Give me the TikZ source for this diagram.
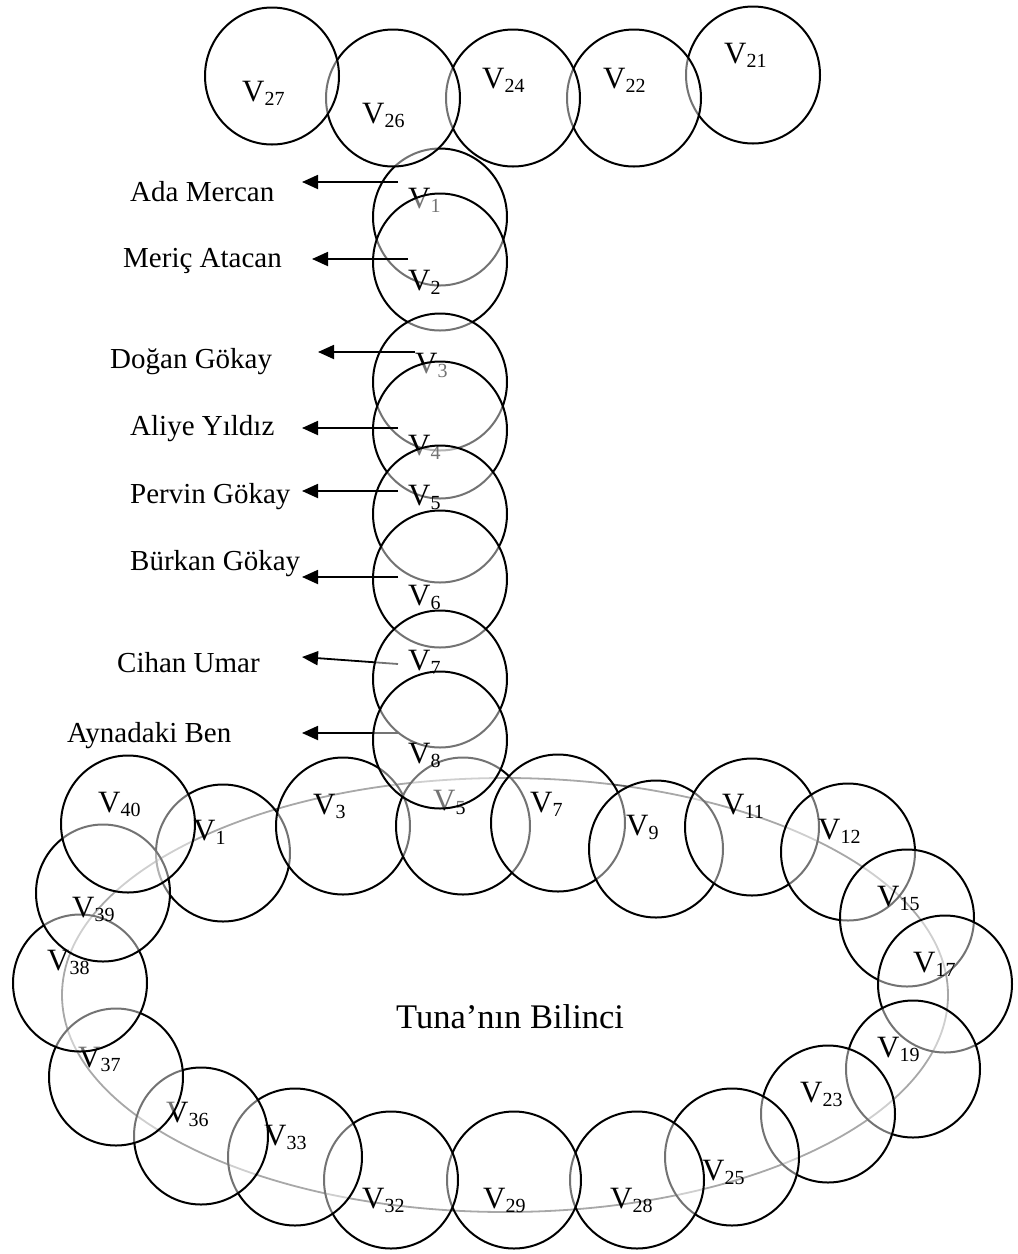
\documentclass[tikz,border=0pt]{standalone}
\usepackage{fontspec}
\setmainfont{Liberation Serif}
\usetikzlibrary{shapes.geometric,arrows.meta}

\newcommand\vlab[1]{{\fontsize{31}{31}\selectfont V}\raisebox{-4pt}{\fontsize{20}{20}\selectfont #1}}

\tikzset{
  vc/.style={draw=black, line width=2pt, ellipse, minimum width=134pt,
             minimum height=137pt, inner sep=0pt, fill=white, fill opacity=0.45,
             text opacity=1},
  vl/.style={anchor=base west, inner sep=0pt},
  nm/.style={anchor=base west, inner sep=0pt, font=\fontsize{29}{32}\selectfont},
  ptr/.style={line width=1.8pt, -{Triangle[length=16pt,width=14pt]}},
}

\begin{document}
\begin{tikzpicture}[x=1pt, y=-1pt]
\useasboundingbox (0,0) rectangle (1018,1254);

% the large ring of consciousness
\node[draw=black!62, line width=1.8pt, ellipse, minimum width=886pt,
      minimum height=434pt, inner sep=0pt] (tuna) at (505,995) {};
\node[anchor=base west, inner sep=0pt, font=\fontsize{34.5}{36}\selectfont]
      (tunatext) at (396,1028) {Tuna’nın Bilinci};

% circles around the ring, each drawn over the previous one
\node[vc] (r1)  at (223,853)  {}; \node[vl] (lr1)  at (193,840)  {\vlab{1}};
\node[vc] (r3)  at (343,826)  {}; \node[vl] (lr3)  at (313,814)  {\vlab{3}};
\node[vc] (r5)  at (463,826)  {}; \node[vl] (lr5)  at (433,810)  {\vlab{5}};
\node[vc] (r7)  at (558,823)  {}; \node[vl] (lr7)  at (530,812)  {\vlab{7}};
\node[vc] (r9)  at (656,849)  {}; \node[vl] (lr9)  at (626,835)  {\vlab{9}};
\node[vc] (r11) at (752,827)  {}; \node[vl] (lr11) at (722,814)  {\vlab{11}};
\node[vc] (r12) at (848,852)  {}; \node[vl] (lr12) at (818,839)  {\vlab{12}};
\node[vc] (r15) at (907,918)  {}; \node[vl] (lr15) at (877,906)  {\vlab{15}};
\node[vc] (r17) at (945,984)  {}; \node[vl] (lr17) at (913,972)  {\vlab{17}};
\node[vc] (r19) at (913,1069) {}; \node[vl] (lr19) at (877,1057) {\vlab{19}};
\node[vc] (r23) at (828,1114) {}; \node[vl] (lr23) at (800,1102) {\vlab{23}};
\node[vc] (r25) at (732,1157) {}; \node[vl] (lr25) at (702,1180) {\vlab{25}};
\node[vc] (r28) at (637,1180) {}; \node[vl] (lr28) at (610,1208) {\vlab{28}};
\node[vc] (r29) at (514,1180) {}; \node[vl] (lr29) at (483,1208) {\vlab{29}};
\node[vc] (r32) at (391,1180) {}; \node[vl] (lr32) at (362,1208) {\vlab{32}};
\node[vc] (r33) at (295,1157) {}; \node[vl] (lr33) at (264,1145) {\vlab{33}};
\node[vc] (r36) at (201,1136) {}; \node[vl] (lr36) at (166,1122) {\vlab{36}};
\node[vc] (r37) at (116,1077) {}; \node[vl] (lr37) at (78,1067)  {\vlab{37}};
\node[vc] (r38) at (80,983)   {}; \node[vl] (lr38) at (47,970)   {\vlab{38}};
\node[vc] (r39) at (103,893)  {}; \node[vl] (lr39) at (72,917)   {\vlab{39}};
\node[vc] (r40) at (128,824)  {}; \node[vl] (lr40) at (98,812)   {\vlab{40}};

% pointers that pass under the column
\coordinate (p7s) at (398,664); \coordinate (p7e) at (302,657);
\coordinate (p8s) at (398,733); \coordinate (p8e) at (302,733);
\draw[ptr] (p7s) -- (p7e);
\draw[ptr] (p8s) -- (p8e);

% vertical column
\node[vc] (c1) at (440,217) {}; \node[vl] (lc1) at (408,208) {\vlab{1}};
\node[vc] (c2) at (440,262) {}; \node[vl] (lc2) at (408,290) {\vlab{2}};
\node[vc] (c3) at (440,382) {}; \node[vl] (lc3) at (415,373) {\vlab{3}};
\node[vc] (c4) at (440,430) {}; \node[vl] (lc4) at (408,455) {\vlab{4}};
\node[vc] (c5) at (440,514) {}; \node[vl] (lc5) at (408,505) {\vlab{5}};
\node[vc] (c6) at (440,579) {}; \node[vl] (lc6) at (408,605) {\vlab{6}};
\node[vc] (c7) at (440,679) {}; \node[vl] (lc7) at (408,670) {\vlab{7}};
\node[vc] (c8) at (440,740) {}; \node[vl] (lc8) at (408,763) {\vlab{8}};

% top row
\node[vc] (t21) at (753,75) {}; \node[vl] (lt21) at (724,63)  {\vlab{21}};
\node[vc] (t22) at (634,98) {}; \node[vl] (lt22) at (603,88)  {\vlab{22}};
\node[vc] (t24) at (513,98) {}; \node[vl] (lt24) at (482,88)  {\vlab{24}};
\node[vc] (t26) at (393,98) {}; \node[vl] (lt26) at (362,123) {\vlab{26}};
\node[vc] (t27) at (272,76) {}; \node[vl] (lt27) at (242,101) {\vlab{27}};

% names and pointers
\node[nm] (n1) at (130,201) {Ada Mercan};
\node[nm] (n2) at (123,267) {Meriç Atacan};
\node[nm] (n3) at (110,368) {Doğan Gökay};
\node[nm] (n4) at (130,435) {Aliye Yıldız};
\node[nm] (n5) at (130,503) {Pervin Gökay};
\node[nm] (n6) at (130,570) {Bürkan Gökay};
\node[nm] (n7) at (117,672) {Cihan Umar};
\node[nm] (n8) at (67,742)  {Aynadaki Ben};

\coordinate (p1s) at (398,182); \coordinate (p1e) at (302,182);
\coordinate (p2s) at (408,259); \coordinate (p2e) at (312,259);
\coordinate (p3s) at (415,352); \coordinate (p3e) at (318,352);
\coordinate (p4s) at (398,428); \coordinate (p4e) at (302,428);
\coordinate (p5s) at (398,491); \coordinate (p5e) at (302,491);
\coordinate (p6s) at (398,577); \coordinate (p6e) at (302,577);
\draw[ptr] (p1s) -- (p1e);
\draw[ptr] (p2s) -- (p2e);
\draw[ptr] (p3s) -- (p3e);
\draw[ptr] (p4s) -- (p4e);
\draw[ptr] (p5s) -- (p5e);
\draw[ptr] (p6s) -- (p6e);
\end{tikzpicture}
\end{document}
